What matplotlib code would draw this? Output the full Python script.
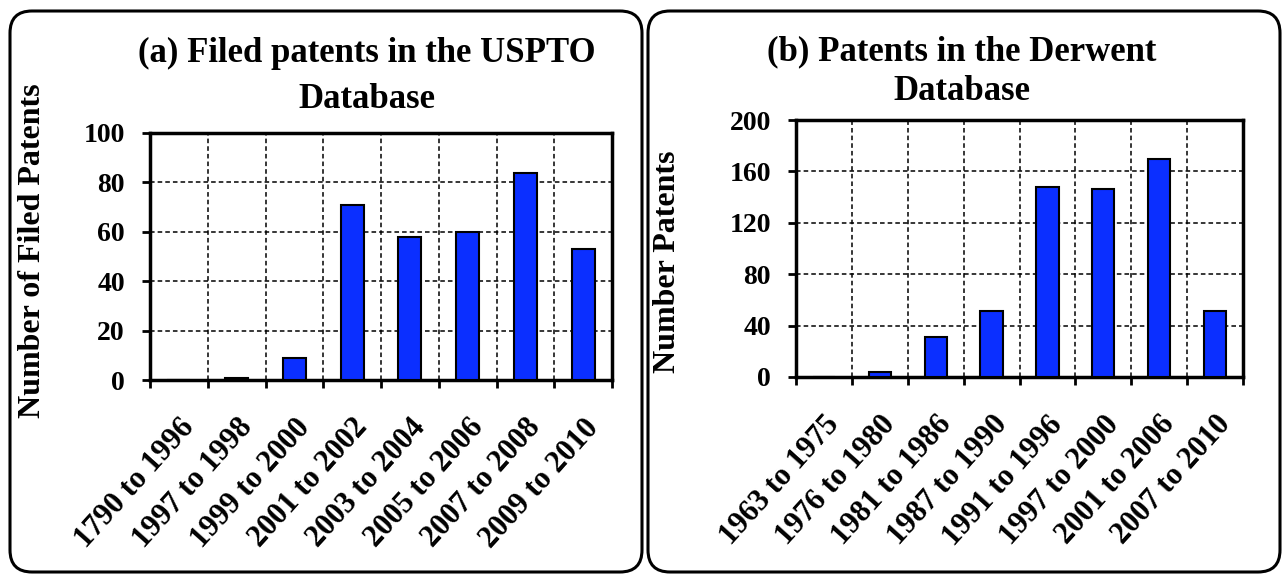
import matplotlib.pyplot as plt
from matplotlib.patches import FancyBboxPatch
from matplotlib.ticker import FixedLocator
from matplotlib.transforms import IdentityTransform

plt.rcParams['font.family'] = ['Liberation Serif', 'DejaVu Serif']
plt.rcParams['font.weight'] = 'bold'

uspto_labels = ['1790 to 1996', '1997 to 1998', '1999 to 2000', '2001 to 2002',
                '2003 to 2004', '2005 to 2006', '2007 to 2008', '2009 to 2010']
uspto_counts = [0, 1, 9, 71, 58, 60, 84, 53]

derwent_labels = ['1963 to 1975', '1976 to 1980', '1981 to 1986', '1987 to 1990',
                  '1991 to 1996', '1997 to 2000', '2001 to 2006', '2007 to 2010']
derwent_counts = [0, 4, 31, 51, 148, 146, 170, 51]

bar_color = '#0B2FFF'

W, H = 1283, 576
fig = plt.figure(figsize=(W / 100, H / 100), dpi=100)

# rounded frames round each panel (pixel coords, origin bottom-left)
for x0, x1 in [(10, 642), (648, 1280)]:
    box = FancyBboxPatch((x0, 4), x1 - x0, 561,
                         boxstyle='round,pad=0,rounding_size=22',
                         transform=IdentityTransform(), fill=False,
                         edgecolor='black', linewidth=2.2)
    fig.patches.append(box)


def draw_panel(left, right, top, bottom, labels, counts, ymax, ystep, ylabel):
    ax = fig.add_axes([left / W, 1 - bottom / H, (right - left) / W, (bottom - top) / H])
    x = range(len(counts))
    ax.bar(x, counts, width=0.4, color=bar_color, edgecolor='black',
           linewidth=1.5, zorder=3)
    ax.set_xlim(-0.5, len(counts) - 0.5)
    ax.set_ylim(0, ymax)
    ax.set_yticks(range(0, ymax + 1, ystep))
    ax.xaxis.set_major_locator(FixedLocator([i - 0.5 for i in range(len(counts) + 1)]))
    ax.xaxis.set_minor_locator(FixedLocator(list(x)))
    ax.set_xticklabels([], minor=False)
    ax.set_xticklabels(labels, minor=True, rotation=48, ha='right', va='top',
                       rotation_mode='anchor', fontsize=22, fontweight='bold')
    ax.tick_params(axis='x', which='minor', length=0, pad=24)
    ax.tick_params(axis='x', which='major', length=6, width=2, direction='out')
    ax.tick_params(axis='y', length=6, width=2, direction='out', labelsize=20, pad=12)
    ax.grid(True, which='major', linestyle=(0, (3, 2)), color='black',
            linewidth=1.1, zorder=0)
    for s in ax.spines.values():
        s.set_linewidth(2.5)
    ax.set_ylabel(ylabel, fontsize=23, fontweight='bold')
    return ax


ax1 = draw_panel(150, 612, 133, 380, uspto_labels, uspto_counts, 100, 20,
                 'Number of Filed Patents')
ax1.yaxis.set_label_coords((47 - 150) / (612 - 150), (380 - 251) / (380 - 133))
fig.text(367 / W, 1 - 62 / H, '(a) Filed patents in the USPTO', ha='center',
         va='baseline', fontsize=25, fontweight='bold')
fig.text(367 / W, 1 - 108 / H, 'Database', ha='center', va='baseline',
         fontsize=25, fontweight='bold')

ax2 = draw_panel(796, 1243, 120, 377, derwent_labels, derwent_counts, 200, 40,
                 'Number Patents')
ax2.yaxis.set_label_coords((682 - 796) / (1243 - 796), (377 - 262) / (377 - 120))
fig.text(962 / W, 1 - 60 / H, '(b) Patents in the Derwent', ha='center',
         va='baseline', fontsize=25, fontweight='bold')
fig.text(962 / W, 1 - 100 / H, 'Database', ha='center', va='baseline',
         fontsize=25, fontweight='bold')

fig.savefig('out.png', dpi=100)
